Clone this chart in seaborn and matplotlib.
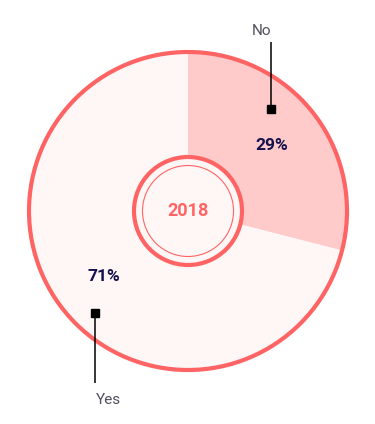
import matplotlib
matplotlib.use("Agg")
import matplotlib.pyplot as plt
from matplotlib.patches import Circle
import seaborn as sns

# chart data
categories = ["No", "Yes"]
shares = [29, 71]
year_label = "2018"

# colours
ring_red = "#ff6464"
slice_colors = ["#ffcaca", "#fff6f6"]
pct_color = "#14114d"
label_color = "#50505e"

sns.set_theme(style="white")
plt.rcParams["font.family"] = ["Roboto", "DejaVu Sans"]

fig = plt.figure(figsize=(3.75, 4.24), dpi=100)
ax = fig.add_axes([0, 0, 1, 1])

# pixel-like layout (y measured from bottom)
cx, cy, r = 188, 213, 159

wedges, texts, autotexts = ax.pie(
    shares, colors=slice_colors, startangle=90, counterclock=False,
    radius=r, center=(cx, cy), wedgeprops=dict(linewidth=0),
    autopct=lambda p: f"{p:.0f}%", pctdistance=0.67,
    textprops=dict(color=pct_color, fontsize=12.5, fontweight="bold"))

# outer ring and centre circles
ax.add_patch(Circle((cx, cy), r, fill=False, ec=ring_red, lw=3))
ax.add_patch(Circle((cx, cy), 54, fc=slice_colors[1], ec=ring_red, lw=3))
ax.add_patch(Circle((cx, cy), 45.5, fill=False, ec=ring_red, lw=0.8))
ax.text(cx, cy, year_label, ha="center", va="center", color=ring_red,
        fontsize=13, fontweight="bold")

# leader lines with square tips: (marker x, marker y, line end y, align)
leaders = {
    "No": (271, 424 - 109, 424 - 42, "right"),
    "Yes": (95, 424 - 313, 424 - 383, "left"),
}
for cat in categories:
    x, y0, y1, align = leaders[cat]
    ax.plot([x, x], [y0, y1], color="black", lw=1.1, solid_capstyle="butt")
    ax.plot([x], [y0], marker="s", ms=5.2, color="black")
    ty = y1 + 11 if y1 > y0 else y1 - 17
    ax.text(x + (1 if align == "left" else 0), ty, cat, ha=align, va="center",
            color=label_color, fontsize=11)

ax.set_xlim(0, 375)
ax.set_ylim(0, 424)
ax.set_aspect("equal")
ax.axis("off")

fig.savefig("out.png", dpi=100, facecolor="white")
